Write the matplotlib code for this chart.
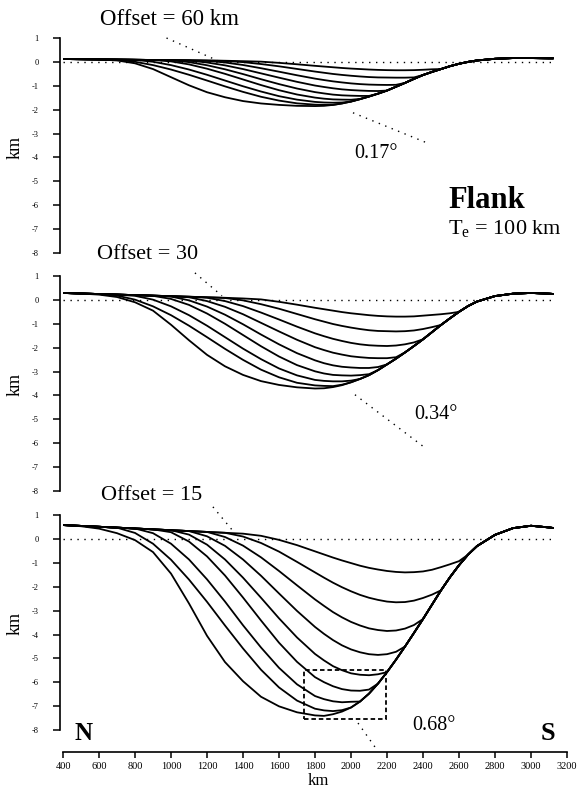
import matplotlib
matplotlib.use("Agg")
import matplotlib.pyplot as plt
from matplotlib.patches import Rectangle

plt.rcParams['font.family'] = ['Liberation Serif', 'DejaVu Serif']
plt.rcParams['mathtext.fontset'] = 'custom'
plt.rcParams['mathtext.rm'] = 'Liberation Serif'
plt.rcParams['mathtext.it'] = 'Liberation Serif:italic'

# ---------------- data (km along profile, deflection in km) ----------------
X_KM = [400, 500, 600, 700, 800, 900, 1000, 1100, 1200, 1300, 1400, 1500,
        1600, 1700, 1800, 1850, 1900, 1950, 2000, 2050, 2100, 2150, 2200,
        2250, 2300, 2350, 2400, 2450, 2500, 2550, 2600, 2650, 2700, 2800,
        2900, 3000, 3100, 3120]
X_TICKS = [400, 600, 800, 1000, 1200, 1400, 1600, 1800, 2000, 2200, 2400,
           2600, 2800, 3000, 3200]
Y_TICKS = [1, 0, -1, -2, -3, -4, -5, -6, -7, -8]

# --- Offset = 60 km (top panel) ---
TOP60 = [0.12, 0.112, 0.104, 0.096, 0.088, 0.08, 0.072, 0.064, 0.056, 0.048, 0.04]
DEEP60 = [0.12, 0.115, 0.10, 0.06, -0.06, -0.30, -0.64, -0.98, -1.27, -1.48,
          -1.64, -1.74, -1.80, -1.84, -1.85,
          -1.84, -1.80, -1.74, -1.66, -1.56, -1.45, -1.33, -1.20, -1.04, -0.88,
          -0.71, -0.55, -0.42, -0.30, -0.18, -0.08, 0.00, 0.06,
          0.13, 0.16, 0.16, 0.15, 0.15]
START60 = [700, 800, 900, 1000, 1100, 1200, 1300, 1400]
CURVES60 = [
    [0.09, 0.005, -0.135, -0.32, -0.54, -0.78, -1.025, -1.255, -1.46, -1.62, -1.735, -1.79,
     -1.80],
    [0.085, 0.005, -0.135, -0.32, -0.54, -0.78, -1.02, -1.24, -1.435, -1.58, -1.675,
     -1.70, -1.71, -1.70],
    [0.08, 0.02, -0.105, -0.285, -0.50, -0.735, -0.97, -1.185, -1.365, -1.495,
     -1.54, -1.57, -1.58, -1.585, -1.55],
    [0.07, -0.01, -0.14, -0.31, -0.51, -0.725, -0.93, -1.115, -1.265,
     -1.32, -1.37, -1.40, -1.415, -1.425, -1.425],
    [0.055, -0.025, -0.145, -0.30, -0.48, -0.66, -0.835, -0.99,
     -1.05, -1.105, -1.15, -1.18, -1.20, -1.215, -1.22],
    [0.045, -0.025, -0.13, -0.265, -0.41, -0.56, -0.70,
     -0.76, -0.815, -0.86, -0.90, -0.93, -0.95, -0.96, -0.965, -0.96],
    [0.04, -0.01, -0.09, -0.185, -0.295, -0.405,
     -0.455, -0.505, -0.545, -0.58, -0.61, -0.635, -0.65, -0.655, -0.66, -0.66, -0.65],
    [0.03, 0.01, -0.04, -0.10, -0.165,
     -0.195, -0.225, -0.255, -0.28, -0.30, -0.32, -0.335, -0.345, -0.35, -0.35, -0.345,
     -0.33, -0.31],
]

# --- Offset = 30 (middle panel) ---
TOP30 = [0.29, 0.268, 0.245, 0.222, 0.20, 0.178, 0.155, 0.132, 0.11, 0.088, 0.065]
DEEP30 = [0.29, 0.265, 0.22, 0.12, -0.10, -0.45, -1.04, -1.69, -2.30, -2.78,
          -3.14, -3.40, -3.56, -3.66, -3.71,
          -3.70, -3.65, -3.57, -3.45, -3.31, -3.15, -2.94, -2.70, -2.46, -2.20,
          -1.93, -1.65, -1.35, -1.05, -0.77, -0.50, -0.26, -0.07,
          0.16, 0.26, 0.29, 0.26, 0.25]
START30 = [700, 800, 900, 1000, 1100, 1200, 1300, 1400]
CURVES30 = [
    [0.18, 0.01, -0.27, -0.64, -1.08, -1.56, -2.05, -2.51, -2.92, -3.24, -3.47, -3.58,
     -3.60, -3.61, -3.55],
    [0.17, 0.01, -0.27, -0.64, -1.08, -1.56, -2.04, -2.48, -2.87, -3.16, -3.35,
     -3.39, -3.41, -3.41, -3.38],
    [0.17, 0.04, -0.21, -0.57, -1.00, -1.47, -1.94, -2.37, -2.73, -2.99,
     -3.08, -3.14, -3.16, -3.17, -3.15, -3.11],
    [0.14, -0.02, -0.28, -0.62, -1.02, -1.45, -1.86, -2.23, -2.53,
     -2.65, -2.74, -2.80, -2.83, -2.85, -2.85, -2.81],
    [0.11, -0.05, -0.29, -0.60, -0.96, -1.32, -1.67, -1.98,
     -2.10, -2.21, -2.29, -2.36, -2.40, -2.43, -2.44, -2.44, -2.40],
    [0.09, -0.05, -0.26, -0.53, -0.82, -1.12, -1.40,
     -1.52, -1.63, -1.72, -1.80, -1.86, -1.90, -1.92, -1.93, -1.91, -1.86, -1.78],
    [0.08, -0.02, -0.18, -0.37, -0.59, -0.81,
     -0.91, -1.01, -1.09, -1.16, -1.22, -1.27, -1.30, -1.31, -1.32, -1.31, -1.28, -1.22,
     -1.14],
    [0.06, 0.02, -0.08, -0.20, -0.33,
     -0.39, -0.45, -0.51, -0.56, -0.60, -0.64, -0.67, -0.69, -0.70, -0.70, -0.69, -0.66,
     -0.63, -0.60, -0.56],
]

# --- Offset = 15 (bottom panel) ---
TOP15 = [0.58, 0.544, 0.508, 0.472, 0.436, 0.40, 0.364, 0.328, 0.292, 0.256, 0.22]
DEEP15 = [0.58, 0.53, 0.43, 0.24, -0.05, -0.55, -1.45, -2.70, -4.05, -5.15,
          -5.95, -6.60, -7.00, -7.25, -7.38,
          -7.40, -7.33, -7.22, -7.05, -6.80, -6.47, -6.05, -5.57, -5.05, -4.50,
          -3.93, -3.35, -2.75, -2.15, -1.60, -1.10, -0.66, -0.30,
          0.17, 0.45, 0.55, 0.48, 0.46]
START15 = [700, 900, 1000, 1100, 1200, 1300, 1400, 1500]
CURVES15 = [
    [0.47, 0.25, -0.20, -0.87, -1.70, -2.63, -3.62, -4.58, -5.47, -6.21, -6.76, -7.10,
     -7.17, -7.20, -7.16],
    [0.24, -0.20, -0.86, -1.69, -2.62, -3.61, -4.54, -5.39, -6.08, -6.57,
     -6.70, -6.79, -6.83, -6.81],
    [0.28, -0.11, -0.73, -1.53, -2.45, -3.41, -4.34, -5.14, -5.78,
     -5.99, -6.16, -6.28, -6.34, -6.35, -6.30],
    [0.18, -0.24, -0.86, -1.62, -2.46, -3.32, -4.12, -4.81,
     -5.08, -5.32, -5.49, -5.62, -5.68, -5.70, -5.66],
    [0.11, -0.29, -0.86, -1.54, -2.28, -3.01, -3.68,
     -3.97, -4.23, -4.45, -4.62, -4.74, -4.82, -4.85, -4.82, -4.72],
    [0.08, -0.28, -0.77, -1.34, -1.94, -2.53,
     -2.80, -3.06, -3.28, -3.47, -3.62, -3.74, -3.81, -3.85, -3.83, -3.75, -3.60],
    [0.10, -0.17, -0.53, -0.96, -1.40,
     -1.62, -1.83, -2.02, -2.19, -2.34, -2.46, -2.55, -2.62, -2.65, -2.64, -2.58, -2.47,
     -2.33],
    [0.13, -0.04, -0.26, -0.52,
     -0.65, -0.78, -0.90, -1.01, -1.12, -1.21, -1.28, -1.34, -1.38, -1.40, -1.39, -1.36,
     -1.29, -1.18, -1.06, -0.93],
]
BOX15 = (1740, 2195, -7.53, -5.48)   # x0, x1, y0, y1 of dashed box

# ---------------- figure ----------------
W, H = 579, 789
fig = plt.figure(figsize=(W / 100, H / 100), dpi=100)
fig.patch.set_facecolor('white')


def px_axes(l, t, r, b):
    return fig.add_axes([l / W, 1 - b / H, (r - l) / W, (b - t) / H])


def build(top, deep, start, own):
    i0 = X_KM.index(start)
    return top[:i0] + own + deep[i0 + len(own):]


def style_axis(ax, ymin, show_x=False):
    ax.set_xlim(400, 3200)
    ax.set_ylim(ymin, 1)
    for s in ('top', 'right'):
        ax.spines[s].set_visible(False)
    ax.spines['left'].set_bounds(-8, 1)
    ax.spines['left'].set_position(('outward', 2.5))
    ax.spines['left'].set_linewidth(1.2)
    ax.set_yticks(Y_TICKS)
    ax.set_yticklabels([str(v) for v in Y_TICKS])
    ax.tick_params(axis='y', direction='out', length=5, width=1.1,
                   labelsize=6, pad=10)
    if show_x:
        ax.spines['bottom'].set_bounds(400, 3200)
        ax.spines['bottom'].set_linewidth(1.2)
        ax.set_xticks(X_TICKS)
        ax.set_xticklabels([str(v) for v in X_TICKS])
        ax.tick_params(axis='x', direction='out', length=4, width=1.1,
                       labelsize=7.5, pad=3.5)
    else:
        ax.spines['bottom'].set_visible(False)
        ax.set_xticks([])
    ax.patch.set_alpha(0)


def draw_panel(ax, top, deep, starts, curves):
    ax.hlines(0, X_KM[0], X_KM[-1], colors='black', linewidth=1.0,
              linestyles=(0, (1, 4)))
    ax.plot(X_KM, deep, color='black', lw=1.3, solid_joinstyle='round')
    for st, own in zip(starts, curves):
        ax.plot(X_KM, build(top, deep, st, own), color='black', lw=1.3,
                solid_joinstyle='round')


dot = dict(color='black', lw=1.0, ls=(0, (1, 4)))

# top panel
ax1 = px_axes(63, 38, 567, 253)
style_axis(ax1, -8)
draw_panel(ax1, TOP60, DEEP60, START60, CURVES60)
ax1.text(994, 1.76, 'Offset = 60 km', fontsize=16.5, ha='center', va='center', clip_on=False)
ax1.plot([975, 1260], [1.0, 0.05], clip_on=False, **dot)
ax1.plot([2011, 2422], [-2.13, -3.39], **dot)
ax1.text(2139, -3.85, '0.17°', fontsize=14.5, ha='center', va='center')
ax1.text(2539, -6.12, 'Flank', fontsize=22, fontweight='bold', ha='left', va='baseline')
ax1.text(2539, -7.22, r'T$_{\mathrm{e}}$ = 100 km', fontsize=16, ha='left', va='baseline')

# middle panel
ax2 = px_axes(63, 276, 567, 491)
style_axis(ax2, -8)
draw_panel(ax2, TOP30, DEEP30, START30, CURVES30)
ax2.text(872, 1.92, 'Offset = 30', fontsize=16, ha='center', va='center', clip_on=False)
ax2.plot([1133, 1283], [1.13, 0.17], clip_on=False, **dot)
ax2.plot([2022, 2411], [-3.97, -6.19], **dot)
ax2.text(2472, -4.81, '0.34°', fontsize=14.5, ha='center', va='center')

# bottom panel
ax3 = px_axes(63, 515, 567, 752)
style_axis(ax3, -8.91, show_x=True)
draw_panel(ax3, TOP15, DEEP15, START15, CURVES15)
ax3.text(894, 1.8, 'Offset = 15', fontsize=16, ha='center', va='center', clip_on=False)
ax3.plot([1233, 1339], [1.34, 0.38], clip_on=False, **dot)
bx0, bx1, by0, by1 = BOX15
ax3.add_patch(Rectangle((bx0, by0), bx1 - bx0, by1 - by0, fill=False,
                        edgecolor='black', lw=1.3, ls=(0, (2.5, 1.6))))
ax3.plot([2039, 2133], [-7.7, -8.7], clip_on=False, **dot)
ax3.text(2461, -7.82, '0.68°', fontsize=14.5, ha='center', va='center')
ax3.text(517, -8.12, 'N', fontsize=18, fontweight='bold', ha='center', va='center')
ax3.text(3094, -8.12, 'S', fontsize=19, fontweight='bold', ha='center', va='center')

# axis labels
for yc in (147, 384, 623):
    fig.text(15 / W, 1 - yc / H, 'km', rotation=90, fontsize=13,
             ha='center', va='center')
fig.text(318 / W, 1 - 781 / H, 'km', fontsize=12, ha='center', va='center')

fig.savefig('out.png', dpi=100, facecolor='white')
